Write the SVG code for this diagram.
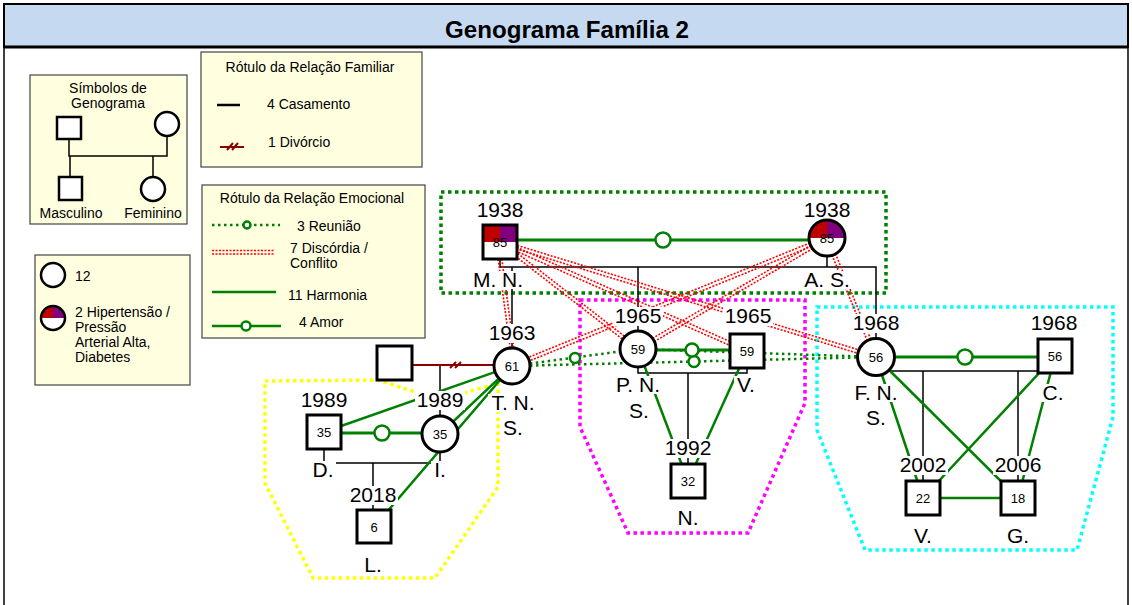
<svg xmlns="http://www.w3.org/2000/svg" width="1132" height="605" viewBox="0 0 1132 605">
<style>
text{font-family:"Liberation Sans",Arial,sans-serif;fill:#000}
.t14{font-size:14px}
.lbl{font-size:21px;text-anchor:middle}
.num{font-size:13px;text-anchor:middle}
.bg{fill:#fff}
.nd{fill:#fff;stroke:#000;stroke-width:3}
.ndl{fill:#fff;stroke:#000;stroke-width:2.5}
.lg{fill:#FFFFE0;stroke:#444;stroke-width:1.2}
.mar{stroke:#000;stroke-width:1.5;fill:none}
.div{stroke:#8B0000;stroke-width:2;fill:none}
.har{stroke:#008000;stroke-width:2.5;fill:none}
.love{stroke:#008000;stroke-width:3;fill:none}
.mk{fill:#fff;stroke:#008000;stroke-width:2.5}
.reu{stroke:#008000;stroke-width:2.5;stroke-dasharray:2.5 3.5;fill:none}
.dis{stroke:#FF0000;stroke-width:1.6;stroke-dasharray:2 1.5;fill:none}
.grp{fill:none;stroke-width:3.5;stroke-dasharray:3.5 3.5}
</style>
<rect x="0" y="0" width="1132" height="605" fill="#fff"/>
<g id="title">
<rect x="4" y="4" width="1124" height="43" fill="#C5D9F1" stroke="#000" stroke-width="2"/>
<line x1="4" y1="47" x2="1128" y2="47" stroke="#000" stroke-width="3"/>
<line x1="4" y1="47" x2="4" y2="605" stroke="#000" stroke-width="1.5"/>
<line x1="1128" y1="47" x2="1128" y2="605" stroke="#000" stroke-width="1.5"/>
<text x="567" y="38" font-size="23" font-weight="bold" text-anchor="middle" textLength="244" lengthAdjust="spacingAndGlyphs">Genograma Família 2</text>
</g>
<g id="legend-symbols">
<rect class="lg" x="30" y="75" width="157" height="149"/>
<text class="t14" x="108" y="93" text-anchor="middle">Símbolos de</text>
<text class="t14" x="108" y="108" text-anchor="middle">Genograma</text>
<path class="mar" d="M69,139 V156 H167 V137 M70,156 V177 M153,156 V177"/>
<rect class="ndl" x="57" y="117" width="24" height="22"/>
<circle class="ndl" cx="167" cy="124" r="12"/>
<rect class="ndl" x="59" y="177" width="23" height="23"/>
<circle class="ndl" cx="153" cy="189" r="12"/>
<text class="t14" x="71" y="218" text-anchor="middle">Masculino</text>
<text class="t14" x="153" y="218" text-anchor="middle">Feminino</text>
</g>
<g id="legend-familiar">
<rect class="lg" x="201" y="52" width="221" height="115"/>
<text class="t14" x="310" y="72" text-anchor="middle">Rótulo da Relação Familiar</text>
<line x1="217" y1="105" x2="240" y2="105" stroke="#000" stroke-width="2.5"/>
<text class="t14" x="267" y="109">4 Casamento</text>
<path class="div" d="M220,147 H244 M227,150 L233,143 M232,150 L238,143" stroke-width="2.5"/>
<text class="t14" x="268" y="147">1 Divórcio</text>
</g>
<g id="legend-count">
<rect class="lg" x="35" y="255" width="155" height="130"/>
<circle class="ndl" cx="53" cy="275" r="12"/>
<text class="t14" x="75" y="281">12</text>
<circle cx="53" cy="318" r="12" fill="#fff"/>
<path d="M53,318 H41 A12,12 0 0 1 53,306 Z" fill="#C00000"/>
<path d="M53,318 V306 A12,12 0 0 1 65,318 Z" fill="#800080"/>
<circle cx="53" cy="318" r="12" fill="none" stroke="#000" stroke-width="2.5"/>
<text class="t14" x="75" y="317">2 Hipertensão /</text>
<text class="t14" x="75" y="332">Pressão</text>
<text class="t14" x="75" y="347">Arterial Alta,</text>
<text class="t14" x="75" y="362">Diabetes</text>
</g>
<g id="legend-emocional">
<rect class="lg" x="202" y="185" width="223" height="153"/>
<text class="t14" x="312" y="203" text-anchor="middle">Rótulo da Relação Emocional</text>
<line class="reu" x1="212" y1="225" x2="280" y2="225" stroke-width="2"/>
<circle class="mk" cx="247" cy="225" r="3.5" stroke-width="2"/>
<text class="t14" x="297" y="231">3 Reunião</text>
<line class="dis" x1="212" y1="250.5" x2="274" y2="250.5"/>
<line class="dis" x1="212" y1="254" x2="274" y2="254"/>
<text class="t14" x="290" y="253">7 Discórdia /</text>
<text class="t14" x="290" y="268">Conflito</text>
<line class="har" x1="212" y1="292" x2="276" y2="292" stroke-width="2"/>
<text class="t14" x="288" y="300">11 Harmonia</text>
<line class="har" x1="212" y1="326" x2="281" y2="326" stroke-width="2"/>
<circle class="mk" cx="246" cy="326" r="4.5" stroke-width="2"/>
<text class="t14" x="299" y="327">4 Amor</text>
</g>
<g id="groups">
<rect class="grp" x="441" y="192" width="445" height="101" stroke="#008000"/>
<polygon class="grp" stroke="#FF00FF" points="580,300 805,300 805,403 748,533 628,533 580,427"/>
<polygon class="grp" stroke="#00FFFF" points="817,307 1113,307 1113,417 1077,550 865,550 817,430"/>
<polygon class="grp" stroke="#FFFF00" points="265,381 378,380 440,400 498,383 498,487 435,578 313,578 265,483"/>
</g>
<g id="connectors">
<path class="mar" d="M500,259 V267 H876 V339 M827,256 V267 M512,267 V348 M638,267 V331"/>
<path class="mar" d="M638,367 V373 H747 V368 M688,373 V464"/>
<path class="mar" d="M876,357 V371 H1055 M923,371 V481 M1018,371 V481"/>
<path class="mar" d="M324,449 V463 H440 V452 M373,463 V510"/>
<path class="mar" d="M440,365 V416"/>
<path class="div" d="M412,365 H494 M450,368 L456,362 M455,368 L461,362"/>
<path class="har" d="M324,432 L512,366 M440,434 L512,366 M374,527 L512,366"/>
<path class="har" d="M638,349 L688,481 M747,351 L688,481"/>
<path class="har" d="M876,357 L923,498 M876,357 L1018,498 M1055,356 L923,498 M1055,356 L1018,498 M923,498 H1018"/>
<path class="dis" d="M498.2,259.2 L510.2,348.2 M501.8,258.8 L513.8,347.8"/>
<path class="dis" d="M498.9,243.4 L636.9,350.4 M501.1,240.6 L639.1,347.6"/>
<path class="dis" d="M499.3,243.7 L746.3,352.7 M500.7,240.3 L747.7,349.3"/>
<path class="dis" d="M499.5,243.7 L875.5,358.7 M500.5,240.3 L876.5,355.3"/>
<path class="dis" d="M827.7,239.7 L512.7,367.7 M826.3,236.3 L511.3,364.3"/>
<path class="dis" d="M827.9,239.6 L638.9,350.6 M826.1,236.4 L637.1,347.4"/>
<path class="dis" d="M825.3,238.7 L874.3,357.7 M828.7,237.3 L877.7,356.3"/>
<path class="reu" d="M512,366 L638,349 M512,366 L876,357 M638,349 L876,357"/>
<circle class="mk" cx="575" cy="358" r="5"/>
<circle class="mk" cx="694" cy="361.5" r="5.5"/>
<circle class="mk" cx="757" cy="353" r="5"/>
<path class="love" d="M500,240 H827 M324,433 H440 M638,350 H747 M876,357 H1055"/>
<circle class="mk" cx="663" cy="240" r="7.5"/>
<circle class="mk" cx="382" cy="433" r="7.5"/>
<circle class="mk" cx="692" cy="350" r="6.5"/>
<circle class="mk" cx="965" cy="357" r="7.5"/>
</g>
<g id="node-mn">
<rect class="bg" x="475" y="201" width="50" height="19"/>
<text class="lbl" x="500" y="217">1938</text>
<rect class="bg" x="470" y="271" width="57" height="18"/>
<text class="lbl" x="498" y="287">M. N.</text>
<rect x="483" y="225" width="34" height="34" fill="#fff"/>
<rect x="483" y="225" width="17" height="17" fill="#C00000"/>
<rect x="500" y="225" width="17" height="17" fill="#800080"/>
<rect x="483" y="225" width="34" height="34" fill="none" stroke="#000" stroke-width="3"/>
<text class="num" x="500" y="247">85</text>
</g>
<g id="node-as">
<rect class="bg" x="802" y="201" width="50" height="19"/>
<text class="lbl" x="827" y="217">1938</text>
<rect class="bg" x="802" y="271" width="50" height="18"/>
<text class="lbl" x="827" y="287">A. S.</text>
<circle cx="827" cy="238" r="18" fill="#fff"/>
<path d="M827,238 H809 A18,18 0 0 1 827,220 Z" fill="#C00000"/>
<path d="M827,238 V220 A18,18 0 0 1 845,238 Z" fill="#800080"/>
<circle cx="827" cy="238" r="18" fill="none" stroke="#000" stroke-width="3"/>
<text class="num" x="827" y="243">85</text>
</g>
<g id="node-tns">
<rect class="bg" x="487" y="324" width="50" height="19"/>
<text class="lbl" x="512" y="340">1963</text>
<rect class="bg" x="488" y="394" width="51" height="18"/>
<text class="lbl" x="513" y="410">T. N.</text>
<rect class="bg" x="501" y="419" width="25" height="18"/>
<text class="lbl" x="513" y="435">S.</text>
<circle class="nd" cx="512" cy="366" r="18"/>
<text class="num" x="512" y="371">61</text>
</g>
<g id="node-ex">
<rect class="nd" x="377" y="346" width="35" height="34"/>
</g>
<g id="node-i">
<rect class="bg" x="415" y="391" width="50" height="19"/>
<text class="lbl" x="440" y="407">1989</text>
<rect class="bg" x="431" y="461" width="18" height="18"/>
<text class="lbl" x="440" y="477">I.</text>
<circle class="nd" cx="440" cy="434" r="18"/>
<text class="num" x="440" y="439">35</text>
</g>
<g id="node-d">
<rect class="bg" x="299" y="391" width="50" height="19"/>
<text class="lbl" x="324" y="407">1989</text>
<rect class="bg" x="311" y="461" width="25" height="18"/>
<text class="lbl" x="323" y="477">D.</text>
<rect class="nd" x="307" y="415" width="34" height="34"/>
<text class="num" x="324" y="437">35</text>
</g>
<g id="node-l">
<rect class="bg" x="348" y="486" width="50" height="19"/>
<text class="lbl" x="373" y="502">2018</text>
<rect class="bg" x="362" y="556" width="22" height="18"/>
<text class="lbl" x="373" y="572">L.</text>
<rect class="nd" x="357" y="510" width="34" height="33"/>
<text class="num" x="374" y="532">6</text>
</g>
<g id="node-pns">
<rect class="bg" x="613" y="307" width="50" height="19"/>
<text class="lbl" x="638" y="323">1965</text>
<rect class="bg" x="612" y="376" width="52" height="18"/>
<text class="lbl" x="638" y="392">P. N.</text>
<rect class="bg" x="627" y="402" width="24" height="18"/>
<text class="lbl" x="639" y="418">S.</text>
<circle class="nd" cx="638" cy="349" r="18"/>
<text class="num" x="638" y="354">59</text>
</g>
<g id="node-v">
<rect class="bg" x="723" y="307" width="50" height="19"/>
<text class="lbl" x="748" y="323">1965</text>
<rect class="bg" x="734" y="376" width="24" height="18"/>
<text class="lbl" x="746" y="392">V.</text>
<rect class="nd" x="730" y="334" width="34" height="34"/>
<text class="num" x="747" y="356">59</text>
</g>
<g id="node-n">
<rect class="bg" x="663" y="439" width="50" height="19"/>
<text class="lbl" x="688" y="455">1992</text>
<rect class="bg" x="676" y="509" width="25" height="18"/>
<text class="lbl" x="688" y="525">N.</text>
<rect class="nd" x="671" y="464" width="34" height="34"/>
<text class="num" x="688" y="486">32</text>
</g>
<g id="node-fns">
<rect class="bg" x="851" y="314" width="50" height="19"/>
<text class="lbl" x="876" y="330">1968</text>
<rect class="bg" x="850" y="384" width="52" height="18"/>
<text class="lbl" x="876" y="400">F. N.</text>
<rect class="bg" x="864" y="409" width="24" height="18"/>
<text class="lbl" x="876" y="425">S.</text>
<circle class="nd" cx="876" cy="357" r="18.5"/>
<text class="num" x="876" y="362">56</text>
</g>
<g id="node-c">
<rect class="bg" x="1029" y="314" width="50" height="19"/>
<text class="lbl" x="1054" y="330">1968</text>
<rect class="bg" x="1040" y="384" width="26" height="18"/>
<text class="lbl" x="1053" y="400">C.</text>
<rect class="nd" x="1038" y="339" width="34" height="34"/>
<text class="num" x="1055" y="361">56</text>
</g>
<g id="node-vc">
<rect class="bg" x="898" y="456" width="50" height="19"/>
<text class="lbl" x="923" y="472">2002</text>
<rect class="bg" x="911" y="527" width="24" height="18"/>
<text class="lbl" x="923" y="543">V.</text>
<rect class="nd" x="906" y="481" width="34" height="34"/>
<text class="num" x="923" y="503">22</text>
</g>
<g id="node-g">
<rect class="bg" x="993" y="456" width="50" height="19"/>
<text class="lbl" x="1018" y="472">2006</text>
<rect class="bg" x="1005" y="527" width="26" height="18"/>
<text class="lbl" x="1018" y="543">G.</text>
<rect class="nd" x="1001" y="481" width="34" height="34"/>
<text class="num" x="1018" y="503">18</text>
</g>
</svg>
